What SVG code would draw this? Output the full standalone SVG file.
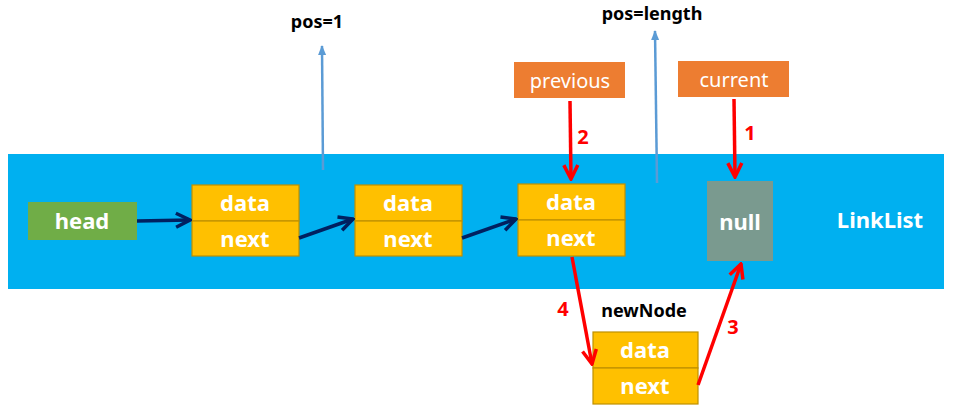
<svg xmlns="http://www.w3.org/2000/svg" width="953" height="410" viewBox="0 0 953 410">
<style>
.n{fill:#ffc000;stroke:#bf9000;stroke-width:1.2}
.w{fill:#fff;font-family:"Microsoft YaHei","Noto Sans",sans-serif;font-weight:bold;font-size:22px;text-anchor:middle}
.o{fill:#fff;font-family:"Noto Sans",sans-serif;font-size:20px;text-anchor:middle}
.b{fill:#000;font-family:"Noto Sans",sans-serif;font-weight:bold;font-size:18px;text-anchor:middle}
.r{fill:#f00;font-family:"Noto Sans",sans-serif;font-weight:bold;font-size:20px;text-anchor:middle}
</style>
<defs>
<marker id="mn" viewBox="0 0 10 10" refX="9" refY="5" markerWidth="5" markerHeight="5" orient="auto"><polyline points="1,1 9,5 1,9" fill="none" stroke="#002060" stroke-width="2"/></marker>
<marker id="mr" viewBox="0 0 10 10" refX="9" refY="5" markerWidth="5" markerHeight="5" orient="auto"><polyline points="1,1 9,5 1,9" fill="none" stroke="#f00" stroke-width="2"/></marker>
<marker id="mb" viewBox="0 0 10 10" refX="9" refY="5" markerWidth="4" markerHeight="4" orient="auto"><path d="M0,1 L10,5 L0,9 Z" fill="#5b9bd5"/></marker>
</defs>
<rect x="8" y="154" width="936" height="135" fill="#00b0f0"/>
<text x="880" y="228" class="w" font-size="19">LinkList</text>
<g id="head"><rect x="28" y="202" width="109" height="38" fill="#70ad47"/><text x="82" y="229" class="w">head</text></g>
<g id="node1"><rect x="192" y="185" width="107" height="36" class="n"/><rect x="192" y="221" width="107" height="35" class="n"/><text x="245" y="211" class="w">data</text><text x="245" y="247" class="w">next</text></g>
<g id="node2"><rect x="355" y="185" width="107" height="36" class="n"/><rect x="355" y="221" width="107" height="35" class="n"/><text x="408" y="211" class="w">data</text><text x="408" y="247" class="w">next</text></g>
<g id="node3"><rect x="518" y="184" width="107" height="36" class="n"/><rect x="518" y="220" width="107" height="36" class="n"/><text x="571" y="210" class="w">data</text><text x="571" y="246" class="w">next</text></g>
<g id="null"><rect x="707" y="181" width="66" height="80" fill="#7a9a8f"/><text x="740" y="230" class="w">null</text></g>
<g id="newNode"><text x="644" y="317" class="b">newNode</text><rect x="593" y="332" width="105" height="36" class="n"/><rect x="593" y="368" width="105" height="36" class="n"/><text x="645" y="358" class="w">data</text><text x="645" y="394" class="w">next</text></g>
<g id="previous"><rect x="514" y="62" width="111" height="36" fill="#ed7d31"/><text x="570" y="88" class="o">previous</text></g>
<g id="current"><rect x="678" y="61" width="111" height="36" fill="#ed7d31"/><text x="734" y="87" class="o">current</text></g>
<text x="317" y="28" class="b">pos=1</text>
<text x="652" y="20" class="b">pos=length</text>
<g id="connectors" fill="none">
<line x1="323" y1="170" x2="322" y2="46" stroke="#5b9bd5" stroke-width="2.5" marker-end="url(#mb)"/>
<line x1="657" y1="183" x2="655" y2="31" stroke="#5b9bd5" stroke-width="2.5" marker-end="url(#mb)"/>
<line x1="137" y1="221" x2="190" y2="220" stroke="#002060" stroke-width="3.5" marker-end="url(#mn)"/>
<line x1="299" y1="238" x2="353" y2="219" stroke="#002060" stroke-width="3.5" marker-end="url(#mn)"/>
<line x1="462" y1="238" x2="516" y2="219" stroke="#002060" stroke-width="3.5" marker-end="url(#mn)"/>
<line x1="734" y1="99" x2="735" y2="177" stroke="#f00" stroke-width="3.5" marker-end="url(#mr)"/>
<line x1="570" y1="101" x2="571" y2="179" stroke="#f00" stroke-width="3.5" marker-end="url(#mr)"/>
<line x1="572" y1="257" x2="592" y2="364" stroke="#f00" stroke-width="3.5" marker-end="url(#mr)"/>
<line x1="698" y1="385" x2="741" y2="264" stroke="#f00" stroke-width="3.5" marker-end="url(#mr)"/>
</g>
<text x="750" y="140" class="r">1</text>
<text x="583" y="144" class="r">2</text>
<text x="733" y="334" class="r">3</text>
<text x="563" y="316" class="r">4</text>
</svg>
